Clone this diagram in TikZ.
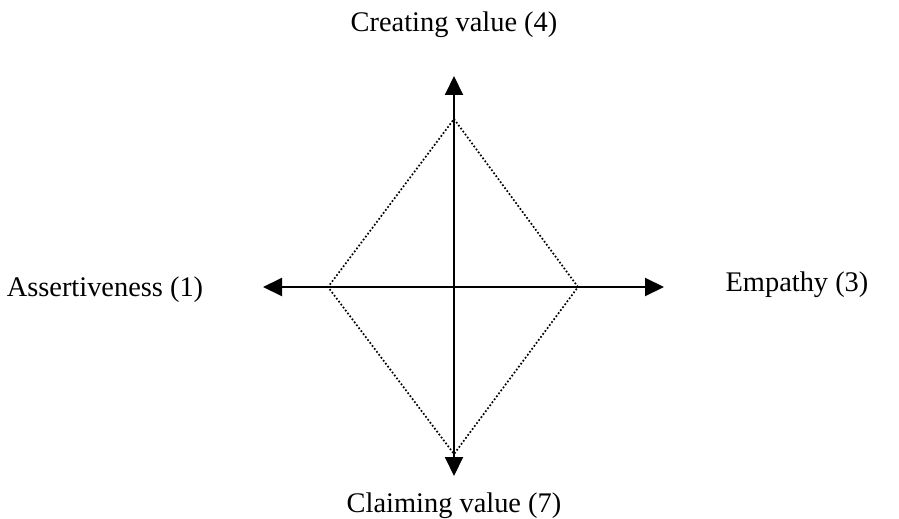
\documentclass[tikz,border=0pt]{standalone}
\usepackage{fontspec}
\setmainfont{Liberation Serif}
\usetikzlibrary{arrows.meta}

\begin{document}
\begin{tikzpicture}[
    x=0.5pt, y=-0.5pt,
    axis/.style={line width=1pt, {Triangle[length=9.5pt,width=9pt]}-{Triangle[length=9.5pt,width=9pt]}},
    rhombus/.style={densely dotted, line width=0.85pt},
    caption/.style={anchor=base, inner sep=0pt, font=\fontsize{14.2}{17}\selectfont}
]
\useasboundingbox (0,0) rectangle (899,519);

% Axis ends and diamond corners
\coordinate (origin) at (454,287);
\coordinate (north) at (454,76);
\coordinate (south) at (454,476);
\coordinate (west) at (263,287);
\coordinate (east) at (664,287);

\coordinate (top) at (454,119);
\coordinate (right) at (578,287);
\coordinate (bottom) at (454,454);
\coordinate (left) at (328,287);

% Labels
\node[caption] (creating) at (454,32) {Creating value (4)};
\node[caption] (claiming) at (454,512) {Claiming value (7)};
\node[caption] (assert) at (105,296) {Assertiveness (1)};
\node[caption] (empathy) at (797,291) {Empathy (3)};

% Diamond
\draw[rhombus] (top) -- (right) -- (bottom) -- (left) -- cycle;

% Axes
\draw[axis] (west) -- (east);
\draw[axis] (south) -- (north);

\end{tikzpicture}
\end{document}
